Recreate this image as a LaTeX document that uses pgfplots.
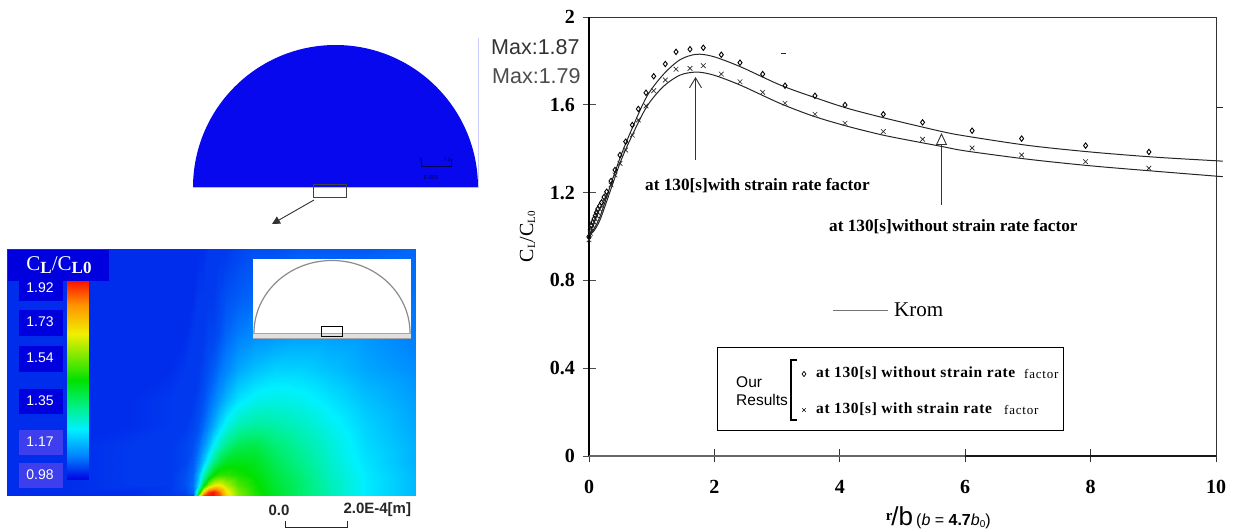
\documentclass[border=0pt]{standalone}
\usepackage{fontspec}
\setmainfont{Liberation Serif}
\newfontfamily\arial{Liberation Sans}
\usepackage{pgfplots}
\pgfplotsset{compat=1.18}
\usetikzlibrary{arrows.meta}
\newcommand\fs[1]{\fontsize{#1}{#1}\selectfont}
\definecolor{fieldblue}{RGB}{8,8,238}
\definecolor{boxdark}{RGB}{0,0,222}
\definecolor{boxlight}{RGB}{62,62,236}
\pgfplotsset{colormap={field}{rgb255(0pt)=(0,0,225); rgb255(12pt)=(0,128,255); rgb255(26pt)=(0,240,255); rgb255(38pt)=(0,240,130); rgb255(51pt)=(0,225,0); rgb255(74pt)=(240,240,0); rgb255(88pt)=(255,150,0); rgb255(100pt)=(250,20,0)}}
\begin{document}
\begin{tikzpicture}[x=1pt,y=1pt]
\path[use as bounding box] (0,0) rectangle (1235pt,532pt);
% ---- field plot
\begin{axis}[at={(7pt,36pt)},anchor=south west,width=408pt,height=247pt,scale only axis,hide axis,
  view={0}{90},y dir=reverse,xmin=7,xmax=415,ymin=249,ymax=496,point meta min=0.98,point meta max=1.92,colormap name=field]
\addplot3[surf,shader=interp,mesh/cols=19] coordinates {
(7,496,1.02)(70,496,1.02)(130,496,1.02)(170,496,1.03)(185,496,1.03)(193,496,1.04)(198,496,1.60)(203,496,1.88)(208,496,1.92)(213,496,1.92)(219,496,1.88)(226,496,1.72)(238,496,1.58)(255,496,1.49)(275,496,1.42)(300,496,1.36)(330,496,1.29)(365,496,1.22)(415,496,1.16)
(7,492,1.02)(70,492,1.02)(130,492,1.02)(170,492,1.03)(185,492,1.04)(193,492,1.07)(198,492,1.35)(203,492,1.72)(208,492,1.88)(213,492,1.92)(219,492,1.85)(226,492,1.70)(238,492,1.57)(255,492,1.48)(275,492,1.42)(300,492,1.36)(330,492,1.29)(365,492,1.22)(415,492,1.16)
(7,485,1.02)(70,485,1.02)(130,485,1.03)(170,485,1.03)(185,485,1.05)(193,485,1.08)(198,485,1.20)(203,485,1.42)(208,485,1.58)(213,485,1.66)(219,485,1.68)(226,485,1.62)(238,485,1.53)(255,485,1.47)(275,485,1.41)(300,485,1.36)(330,485,1.29)(365,485,1.22)(415,485,1.16)
(7,475,1.02)(70,475,1.02)(130,475,1.03)(170,475,1.03)(185,475,1.05)(193,475,1.07)(198,475,1.15)(203,475,1.28)(208,475,1.38)(213,475,1.46)(219,475,1.50)(226,475,1.50)(238,475,1.48)(255,475,1.45)(275,475,1.40)(300,475,1.35)(330,475,1.28)(365,475,1.22)(415,475,1.16)
(7,462,1.02)(70,462,1.02)(130,462,1.03)(170,462,1.03)(185,462,1.04)(193,462,1.06)(198,462,1.10)(203,462,1.17)(208,462,1.25)(213,462,1.33)(219,462,1.39)(226,462,1.43)(238,462,1.44)(255,462,1.43)(275,462,1.38)(300,462,1.33)(330,462,1.27)(365,462,1.21)(415,462,1.15)
(7,445,1.02)(70,445,1.02)(130,445,1.03)(170,445,1.03)(185,445,1.04)(193,445,1.05)(198,445,1.07)(203,445,1.11)(208,445,1.16)(213,445,1.22)(219,445,1.28)(226,445,1.33)(238,445,1.38)(255,445,1.39)(275,445,1.35)(300,445,1.31)(330,445,1.26)(365,445,1.20)(415,445,1.15)
(7,425,1.02)(70,425,1.02)(130,425,1.02)(170,425,1.03)(185,425,1.03)(193,425,1.04)(198,425,1.05)(203,425,1.07)(208,425,1.10)(213,425,1.14)(219,425,1.19)(226,425,1.24)(238,425,1.29)(255,425,1.31)(275,425,1.30)(300,425,1.28)(330,425,1.24)(365,425,1.19)(415,425,1.14)
(7,400,1.02)(70,400,1.02)(130,400,1.02)(170,400,1.03)(185,400,1.03)(193,400,1.03)(198,400,1.04)(203,400,1.05)(208,400,1.07)(213,400,1.09)(219,400,1.12)(226,400,1.16)(238,400,1.21)(255,400,1.24)(275,400,1.25)(300,400,1.24)(330,400,1.21)(365,400,1.17)(415,400,1.13)
(7,370,1.02)(70,370,1.02)(130,370,1.02)(170,370,1.02)(185,370,1.03)(193,370,1.03)(198,370,1.03)(203,370,1.04)(208,370,1.05)(213,370,1.06)(219,370,1.08)(226,370,1.10)(238,370,1.14)(255,370,1.17)(275,370,1.19)(300,370,1.19)(330,370,1.17)(365,370,1.14)(415,370,1.11)
(7,335,1.02)(70,335,1.02)(130,335,1.02)(170,335,1.02)(185,335,1.02)(193,335,1.03)(198,335,1.03)(203,335,1.03)(208,335,1.04)(213,335,1.04)(219,335,1.05)(226,335,1.07)(238,335,1.09)(255,335,1.11)(275,335,1.12)(300,335,1.13)(330,335,1.13)(365,335,1.12)(415,335,1.09)
(7,295,1.02)(70,295,1.02)(130,295,1.02)(170,295,1.02)(185,295,1.02)(193,295,1.02)(198,295,1.03)(203,295,1.03)(208,295,1.03)(213,295,1.03)(219,295,1.04)(226,295,1.05)(238,295,1.06)(255,295,1.07)(275,295,1.08)(300,295,1.09)(330,295,1.09)(365,295,1.09)(415,295,1.08)
(7,249,1.02)(70,249,1.02)(130,249,1.02)(170,249,1.02)(185,249,1.02)(193,249,1.02)(198,249,1.02)(203,249,1.02)(208,249,1.03)(213,249,1.03)(219,249,1.03)(226,249,1.03)(238,249,1.04)(255,249,1.05)(275,249,1.05)(300,249,1.06)(330,249,1.06)(365,249,1.06)(415,249,1.07)
};
% colour bar
\addplot3[surf,shader=interp,mesh/cols=2] coordinates {
(67,281,1.92)(88,281,1.92)
(67,305,1.81)(88,305,1.81)
(67,333,1.68)(88,333,1.68)
(67,380,1.46)(88,380,1.46)
(67,430,1.22)(88,430,1.22)
(67,457,1.09)(88,457,1.09)
(67,480,0.98)(88,480,0.98)
};
\end{axis}
% ---- Krom plot
\begin{axis}[at={(589pt,76pt)},anchor=south west,width=627pt,height=439pt,scale only axis,
  xmin=0,xmax=10,ymin=0,ymax=2,clip=false,
  xtick={0,2,4,6,8,10},ytick={0,0.4,0.8,1.2,1.6,2},
  xticklabels={0,2,4,6,8,10},yticklabels={0,0.4,0.8,1.2,1.6,2},
  xtick pos=bottom,ytick pos=left,tick align=center,major tick length=13pt,
  x tick style={black!80,line width=0.8pt},
  y tick style={black!70,line width=0.8pt},
  tick label style={font=\fs{20}\bfseries},
  xticklabel style={yshift=-14pt},yticklabel style={xshift=-4pt},
  axis line style={black!80,line width=0.9pt},
  ylabel={C\raisebox{-2pt}{\fs{11}L}/C\raisebox{-2pt}{\fs{11}L0}},
  ylabel style={font=\fs{20},at={(axis description cs:-0.098,0.5)},anchor=center,yshift=0pt},
  xlabel={\raisebox{5pt}{\fs{15}\bfseries r}\kern-1pt{\arial\fs{26}/b}\kern3pt{\arial\fs{16}(\textit{b} = \textbf{4.7}\textit{b}\raisebox{-2pt}{\fs{10}0})}},
  xlabel style={at={(axis description cs:0.557,0)},anchor=center,yshift=-62pt}]
\draw[black,line width=2pt] (axis cs:0,0) -- (axis cs:0,2);
\draw[black!60,line width=2.4pt] (axis cs:0,0) -- (axis cs:6,0);
\draw[black!90,line width=1.3pt] (axis cs:6,0) -- (axis cs:10,0);
\addplot[black!85,line width=1pt,smooth] coordinates {
(0,1.007)(0.07,1.03)(0.175,1.09)(0.335,1.227)(0.494,1.357)(0.654,1.47)(0.92,1.637)(1.185,1.738)(1.45,1.805)(1.71,1.83)(1.98,1.82)(2.41,1.774)(3.05,1.69)(3.58,1.635)(4.11,1.585)(4.64,1.545)(5,1.52)(5.63,1.478)(6,1.458)(7,1.415)(8,1.385)(9,1.362)(10,1.345)(10.1,1.343)};
\addplot[black!85,line width=1pt,smooth] coordinates {
(0,1.007)(0.07,1.022)(0.175,1.075)(0.335,1.204)(0.494,1.334)(0.654,1.44)(0.92,1.591)(1.185,1.683)(1.45,1.735)(1.71,1.749)(1.98,1.736)(2.41,1.69)(3.05,1.606)(3.58,1.548)(4.11,1.503)(4.64,1.465)(5,1.444)(5.63,1.41)(6,1.39)(7,1.352)(8,1.322)(9,1.298)(10,1.275)(10.1,1.273)};
\addplot[only marks,mark=diamond,mark size=2.7pt,mark options={black,line width=0.9pt}] coordinates {
(0,1.0)(0.02,1.03)(0.04,1.05)(0.06,1.065)(0.08,1.08)(0.1,1.095)(0.12,1.11)(0.14,1.125)(0.17,1.14)(0.2,1.155)(0.24,1.18)
(0.282,1.204)(0.351,1.253)(0.415,1.303)(0.494,1.371)(0.585,1.432)(0.691,1.508)(0.787,1.581)(0.909,1.655)(1.032,1.730)(1.217,1.786)(1.388,1.841)(1.611,1.853)(1.823,1.860)(2.11,1.828)(2.408,1.792)(2.77,1.740)(3.126,1.687)(3.604,1.641)(4.083,1.599)(4.694,1.557)(5.32,1.520)(6.11,1.482)(6.90,1.446)(7.92,1.414)(8.93,1.385)};
\addplot[only marks,mark=x,mark size=3.3pt,mark options={black!85,line width=0.65pt}] coordinates {
(0,0.985)(0.02,1.015)(0.04,1.035)(0.06,1.05)(0.08,1.065)(0.1,1.08)(0.12,1.095)(0.14,1.11)(0.17,1.125)(0.2,1.14)(0.24,1.165)
(0.282,1.189)(0.351,1.235)(0.415,1.280)(0.494,1.333)(0.585,1.394)(0.691,1.462)(0.787,1.531)(0.909,1.595)(1.032,1.664)(1.217,1.713)(1.388,1.762)(1.611,1.766)(1.823,1.778)(2.11,1.740)(2.408,1.705)(2.77,1.657)(3.126,1.607)(3.604,1.557)(4.083,1.516)(4.694,1.478)(5.32,1.443)(6.11,1.403)(6.90,1.371)(7.92,1.341)(8.93,1.311)};
\end{axis}
% ---- overlay in pixel coordinates
\begin{axis}[at={(0pt,0pt)},anchor=south west,width=1235pt,height=532pt,scale only axis,hide axis,
  xmin=0,xmax=1235,ymin=0,ymax=532,y dir=reverse,clip=false]
% half disc
\fill[fieldblue] (axis cs:193,187.5) arc[start angle=180,end angle=0,radius=142.5pt] -- cycle;
\draw[blue!30,line width=0.8pt] (axis cs:193,187.5) -- (axis cs:478,187.5);
\draw[blue!20,line width=1.3pt] (axis cs:478.5,38) -- (axis cs:478.5,188);
\draw[black!75,line width=0.8pt] (axis cs:313,184) rectangle (axis cs:346,197);
\draw[black!80,line width=0.9pt,-{Triangle[length=8pt,width=8pt]}] (axis cs:314,200) -- (axis cs:272,224);
\draw[black!65!blue,line width=0.5pt] (axis cs:421,159) -- (axis cs:421,166) -- (axis cs:451,166) -- (axis cs:451,159);
\node[text=black!65!blue,font=\arial\fs{5}] at (axis cs:421,160) {0};
\node[text=black!65!blue,font=\arial\fs{5}] at (axis cs:447,160) {7.5};
\node[text=black!65!blue,font=\arial\fs{5.5}] at (axis cs:431,178) {E-002};
% colour-bar labels
\fill[boxdark] (axis cs:8,250) rectangle (axis cs:109,281);
\fill[boxdark] (axis cs:19,281) rectangle (axis cs:63,301);
\fill[boxdark] (axis cs:19,310) rectangle (axis cs:63,336);
\fill[boxdark] (axis cs:19,346) rectangle (axis cs:63,372);
\fill[boxdark] (axis cs:19,389) rectangle (axis cs:63,414);
\fill[boxlight] (axis cs:19,430) rectangle (axis cs:63,455);
\fill[boxlight] (axis cs:19,463) rectangle (axis cs:63,488);
\node[text=white,font=\fs{21}] at (axis cs:59,265) {C\raisebox{-3pt}{\fs{17}\bfseries L}/C\raisebox{-3pt}{\fs{17}\bfseries L0}};
\node[text=white,font=\arial\fs{14}] at (axis cs:40,288) {1.92};
\node[text=white,font=\arial\fs{14}] at (axis cs:40,322) {1.73};
\node[text=white,font=\arial\fs{14}] at (axis cs:40,358) {1.54};
\node[text=white,font=\arial\fs{14}] at (axis cs:40,401) {1.35};
\node[text=white,font=\arial\fs{14}] at (axis cs:40,442) {1.17};
\node[text=white,font=\arial\fs{14}] at (axis cs:40,475) {0.98};
% inset
\fill[white] (axis cs:253,259) rectangle (axis cs:411,338);
\fill[black!12] (axis cs:253,333) rectangle (axis cs:411,338);
\draw[black!45,line width=1.2pt] (axis cs:254,333) arc[start angle=180,end angle=0,x radius=78pt,y radius=72.5pt];
\draw[black!35,line width=0.8pt] (axis cs:253,333) -- (axis cs:411,333);
\draw[black!35,line width=0.8pt] (axis cs:253,338) -- (axis cs:411,338);
\draw[black,line width=1pt] (axis cs:321.5,326) rectangle (axis cs:342,336);
% field scale bar
\node[text=black!85,font=\arial\bfseries\fs{15}] at (axis cs:279,510) {0.0};
\node[text=black!85,font=\arial\bfseries\fs{15},anchor=west] at (axis cs:340,510) {2.0E-4[m]};
\draw[black!85,line width=1pt] (axis cs:285,521) -- (axis cs:285,527) -- (axis cs:347,527) -- (axis cs:347,521);
% text beside the Krom plot
\node[text=black!80,font=\arial\fs{21.5},anchor=west,inner sep=0pt] at (axis cs:491,47) {Max:1.87};
\node[text=black!70,font=\arial\fs{21.5},anchor=west,inner sep=0pt] at (axis cs:492,76) {Max:1.79};
\draw[black!85,line width=0.8pt] (axis cs:781,53) -- (axis cs:786,53);
\draw[black!85,line width=0.9pt] (axis cs:1216,107) -- (axis cs:1223,107);
\draw[black!80,line width=0.9pt,-{Straight Barb[length=10pt,width=12pt]}] (axis cs:695.5,160) -- (axis cs:695.5,77);
\draw[black!80,line width=0.9pt,-{Triangle[open,length=12pt,width=11pt]}] (axis cs:941.5,205) -- (axis cs:941.5,133);
\node[font=\fs{17.2}\bfseries,anchor=west,inner sep=0pt] at (axis cs:645,186) {at 130[s]with strain rate factor};
\node[font=\fs{17.2}\bfseries,anchor=west,inner sep=0pt] at (axis cs:829,227) {at 130[s]without strain rate factor};
\draw[black!55,line width=1pt] (axis cs:833,310) -- (axis cs:888,310);
\node[font=\fs{21},anchor=west,inner sep=0pt] at (axis cs:894,310) {Krom};
\draw[black,line width=0.8pt] (axis cs:717,347) rectangle (axis cs:1063,430);
\node[font=\arial\fs{15.5},anchor=west,inner sep=0pt] at (axis cs:736,382) {Our};
\node[font=\arial\fs{15.5},anchor=west,inner sep=0pt] at (axis cs:736,400) {Results};
\draw[black,line width=1.2pt] (axis cs:797,360) -- (axis cs:791,360) -- (axis cs:791,420) -- (axis cs:797,420);
\addplot[only marks,mark=diamond,mark size=2.6pt,mark options={black,line width=0.7pt}] coordinates {(804,374)};
\addplot[only marks,mark=x,mark size=2.4pt,mark options={black,line width=0.6pt}] coordinates {(804,410)};
\node[font=\fs{15.5}\bfseries\addfontfeature{LetterSpace=4},anchor=west,inner sep=0pt] at (axis cs:816,373) {at 130[s] without strain rate};
\node[font=\fs{13}\addfontfeature{LetterSpace=6},anchor=west,inner sep=0pt] at (axis cs:1024,374) {factor};
\node[font=\fs{15.5}\bfseries\addfontfeature{LetterSpace=4},anchor=west,inner sep=0pt] at (axis cs:816,409) {at 130[s] with strain rate};
\node[font=\fs{13}\addfontfeature{LetterSpace=6},anchor=west,inner sep=0pt] at (axis cs:1004,410) {factor};
\end{axis}
\end{tikzpicture}
\end{document}
